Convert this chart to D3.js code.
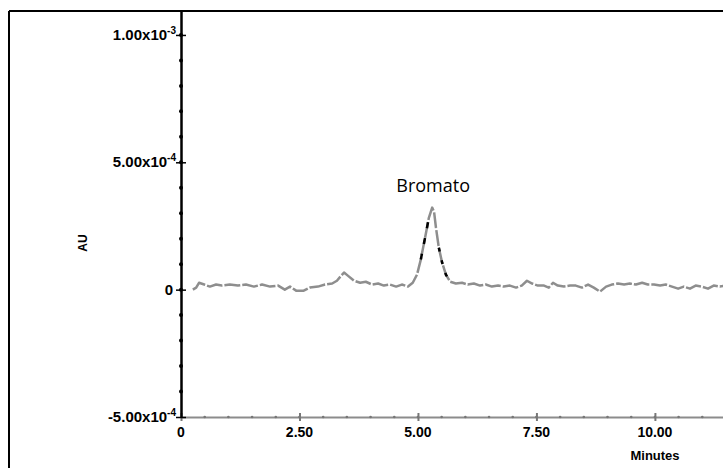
<!DOCTYPE html>
<html>
<head>
<meta charset="utf-8">
<title>Bromato chromatogram</title>
<script src="https://d3js.org/d3.v7.min.js"></script>
<style>
  body { margin:0; background:#fff; }
  text { font-family:"Liberation Sans", Arial, sans-serif; }
</style>
</head>
<body>
<svg id="chart"></svg>
<script>
// retention time (minutes)
var times = [0.25,0.32,0.38,0.49,0.61,0.74,0.86,1.03,1.20,1.37,
  1.54,1.71,1.88,2.05,2.19,2.30,2.43,2.59,2.72,2.89,
  3.04,3.19,3.29,3.38,3.44,3.52,3.65,3.78,3.90,4.03,
  4.16,4.28,4.41,4.54,4.66,4.79,4.89,4.98,5.06,5.15,
  5.23,5.30,5.34,5.38,5.44,5.51,5.59,5.68,5.80,5.93,
  6.05,6.18,6.31,6.43,6.56,6.69,6.81,6.94,7.07,7.19,
  7.30,7.41,7.53,7.66,7.76,7.85,7.95,8.08,8.21,8.33,
  8.46,8.59,8.71,8.84,8.97,9.09,9.22,9.35,9.47,9.60,
  9.73,9.85,9.98,10.11,10.23,10.36,10.49,10.61,10.74,10.86,
  10.99,11.12,11.24,11.37,11.50];

// absorbance, in units of 1e-5 AU
var signal = [0,0.8,2.7,2.0,1.2,2.0,1.6,2.0,1.6,2.0,
  1.2,2.0,1.2,1.6,0,1.2,-0.4,-0.4,0.8,1.2,
  2.0,2.4,3.5,5.5,6.7,5.5,3.5,2.7,3.1,2.0,
  2.4,1.6,2.0,1.2,2.0,1.2,2.7,5.9,11.8,20.4,
  28.2,32.2,30.6,24.3,16.5,10.6,5.9,3.1,2.4,2.7,
  2.0,2.4,1.6,2.0,1.2,1.6,1.2,1.6,0.8,1.6,
  3.5,2.4,1.6,1.6,0.8,2.7,1.6,1.2,1.6,1.6,
  0.8,2.0,0.8,-0.8,1.2,2.0,2.4,2.0,2.4,2.0,
  2.7,2.0,2.0,1.6,2.0,1.2,0.4,1.2,0.4,1.6,
  1.2,0.4,1.6,1.2,1.6];
var signalUnit = 1e-5;

// axis ticks
var xTicks = [0, 2.5, 5, 7.5, 10];
var xTickLabels = ["0", "2.50", "5.00", "7.50", "10.00"];
var yTicks = [-5e-4, 0, 5e-4, 1e-3];
var yTickBase = ["-5.00x10", "0", "5.00x10", "1.00x10"];
var yTickExp = ["-4", "", "-4", "-3"];

var peakName = "Bromato";
var peakTime = 5.32;

var width = 723, height = 468;

var svg = d3.select("#chart")
  .attr("width", width)
  .attr("height", height);

// scales
var x = d3.scaleLinear().domain([0, 11.5]).range([181, 726]);
var y = d3.scaleLinear().domain([-5e-4, 1.094e-3]).range([417, 11]);

var data = times.map(function(t, i) { return {t: t, v: signal[i] * signalUnit}; });

// frame (top and left edge only, the rest is cut off)
svg.append("line")
  .attr("x1", 9).attr("y1", 11).attr("x2", width).attr("y2", 11)
  .style("stroke", "#000").style("stroke-width", 2);
svg.append("line")
  .attr("x1", 9).attr("y1", 11).attr("x2", 9).attr("y2", height)
  .style("stroke", "#000").style("stroke-width", 2);

// x axis
var xAxis = svg.append("g")
  .attr("transform", "translate(0," + y(-5e-4) + ")")
  .call(d3.axisBottom(x).tickValues(xTicks).tickSize(4).tickSizeOuter(0).tickFormat(""));
xAxis.select(".domain").style("stroke", "#8c8c8c").style("stroke-width", 2);
xAxis.selectAll(".tick line").style("stroke", "#777").style("stroke-width", 2)
  .attr("y1", -4);

// x minor ticks
svg.append("g").selectAll("circle")
  .data(d3.range(0.5, 11.5, 0.5))
  .enter().append("circle")
  .attr("cx", function(d) { return x(d); })
  .attr("cy", y(-5e-4))
  .attr("r", 1.3)
  .style("fill", "#777");

svg.append("g").selectAll("text")
  .data(xTicks)
  .enter().append("text")
  .attr("x", function(d) { return x(d); })
  .attr("y", 437)
  .attr("text-anchor", "middle")
  .style("font-size", "14px").style("font-weight", "bold")
  .text(function(d, i) { return xTickLabels[i]; });

svg.append("text")
  .attr("x", 655).attr("y", 460)
  .attr("text-anchor", "middle")
  .style("font-size", "13px").style("font-weight", "bold")
  .text("Minutes");

// y axis
var yAxis = svg.append("g")
  .attr("transform", "translate(" + x(0) + ",0)")
  .call(d3.axisLeft(y).tickValues(yTicks).tickSize(5).tickSizeOuter(0).tickFormat(""));
yAxis.select(".domain").style("stroke", "#000").style("stroke-width", 2.5);
yAxis.selectAll(".tick line").style("stroke", "#000").style("stroke-width", 1.5)
  .attr("x2", 5).attr("x1", -5);

// y minor ticks
svg.append("g").selectAll("circle")
  .data(d3.range(-4e-4, 1.05e-3, 1e-4))
  .enter().append("circle")
  .attr("cx", x(0))
  .attr("cy", function(d) { return y(d); })
  .attr("r", 2)
  .style("fill", "#000");

var yLabels = svg.append("g").selectAll("text")
  .data(yTicks)
  .enter().append("text")
  .attr("x", 176)
  .attr("y", function(d) { return y(d) + 5; })
  .attr("text-anchor", "end")
  .style("font-size", "15px").style("font-weight", "bold");
yLabels.append("tspan")
  .text(function(d, i) { return yTickBase[i]; });
yLabels.append("tspan")
  .attr("dy", -6)
  .style("font-size", "10px")
  .text(function(d, i) { return yTickExp[i]; });
// "0" sits a bit further left, no exponent
yLabels.filter(function(d) { return d === 0; }).attr("x", 173);

svg.append("text")
  .attr("transform", "translate(87," + 243 + ")rotate(-90)")
  .attr("text-anchor", "middle")
  .style("font-size", "12px").style("font-weight", "bold")
  .text("AU");

// trace
var line = d3.line()
  .x(function(d) { return x(d.t); })
  .y(function(d) { return y(d.v); });

svg.append("path")
  .datum(data)
  .attr("d", line)
  .style("fill", "none")
  .style("stroke", "#8e8e8e")
  .style("stroke-width", 2.5)
  .style("stroke-linejoin", "round")
  .style("stroke-dasharray", "16,2");

// dark dashes on the flanks of the peak
svg.append("path")
  .datum(data.filter(function(d) { return d.t >= 5.06 && d.t <= 5.23; }))
  .attr("d", line)
  .style("fill", "none")
  .style("stroke", "#000")
  .style("stroke-width", 2.5)
  .style("stroke-dasharray", "6,10");
svg.append("path")
  .datum(data.filter(function(d) { return d.t >= 5.44 && d.t <= 5.68; }))
  .attr("d", line)
  .style("fill", "none")
  .style("stroke", "#000")
  .style("stroke-width", 2.5)
  .style("stroke-dasharray", "4,9");

// peak label
svg.append("text")
  .attr("x", x(peakTime))
  .attr("y", 192)
  .attr("text-anchor", "middle")
  .style("font-family", "'Open Sans', sans-serif")
  .style("font-size", "18px")
  .text(peakName);
</script>
</body>
</html>
